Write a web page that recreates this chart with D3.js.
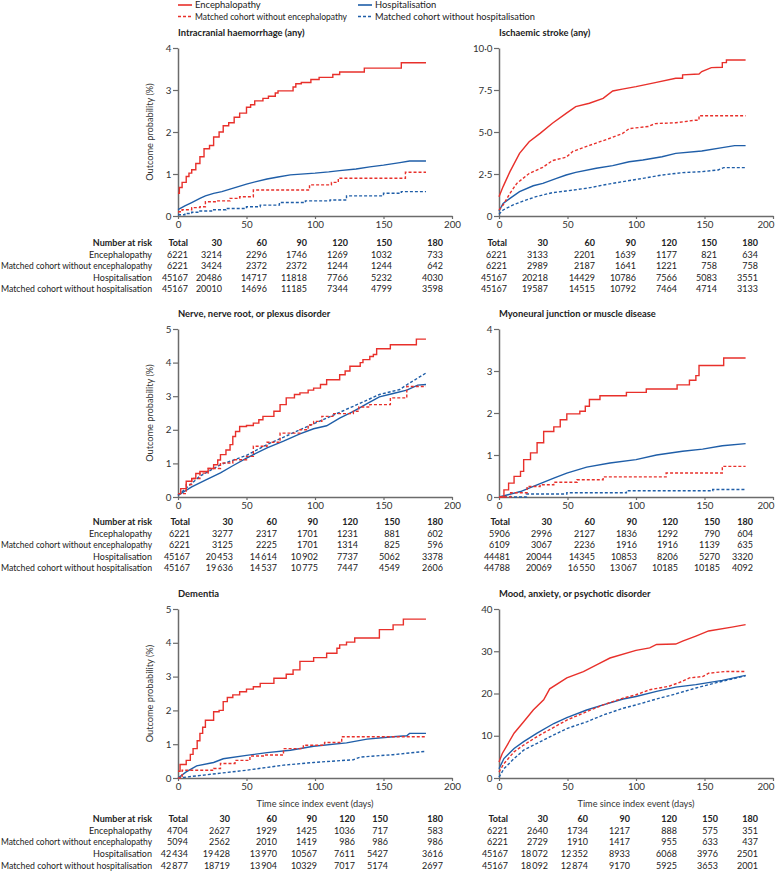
<!DOCTYPE html>
<html><head><meta charset="utf-8">
<script src="https://cdn.jsdelivr.net/npm/d3@7"></script>
<style>
body{margin:0;background:#fff;}
svg{display:block;font-family:Lato,"Noto Sans",sans-serif;}
</style></head><body>
<svg id="chart" width="775" height="871"></svg>
<script>
// ---------- DATA ----------
const seriesNames = ["Encephalopathy","Matched cohort without encephalopathy","Hospitalisation","Matched cohort without hospitalisation"];
const riskDays = ["Total","30","60","90","120","150","180"];
const xTicks = [0,50,100,150,200];

// Intracranial haemorrhage (any)
const ichEnc = [[0,0.54],[1,0.68],[3,0.8],[6,0.94],[8,1.02],[10,1.1],[13,1.25],[16,1.41],[19,1.6],[23,1.68],[26,1.88],[30,2.0],[33,2.15],[37,2.22],[41,2.35],[45,2.45],[50,2.59],[53,2.65],[56,2.74],[62,2.8],[66,2.85],[71,2.93],[73,2.98],[84,3.07],[86,3.15],[90,3.18],[97,3.25],[103,3.3],[113,3.37],[118,3.43],[136,3.52],[163,3.65],[181,3.65]];
const ichEncCtl = [[0,0.1],[3,0.15],[10,0.2],[16,0.22],[20,0.34],[28,0.36],[38,0.42],[45,0.46],[55,0.62],[96,0.74],[112,0.8],[117,0.9],[166,1.04],[181,1.04]];
const ichHosp = [[0,0.15],[5,0.24],[10,0.32],[16,0.42],[20,0.48],[26,0.54],[32,0.58],[38,0.64],[44,0.7],[50,0.76],[57,0.82],[65,0.88],[73,0.93],[82,0.98],[100,1.02],[110,1.05],[118,1.08],[130,1.12],[140,1.17],[150,1.21],[162,1.27],[169,1.31],[181,1.31]];
const ichHospCtl = [[0,0.03],[5,0.06],[10,0.09],[16,0.12],[25,0.15],[35,0.18],[50,0.22],[60,0.26],[74,0.32],[93,0.36],[111,0.38],[123,0.48],[150,0.54],[163,0.58],[181,0.58]];
const ichRisk = [["6221","3214","2296","1746","1269","1032","733"],["6221","3424","2372","2372","1244","1244","642"],["45167","20486","14717","11818","7766","5232","4030"],["45167","20010","14696","11185","7344","4799","3598"]];

// Ischaemic stroke (any)
const iscEnc = [[0,1.15],[3,1.75],[8,2.64],[15,3.73],[22,4.42],[30,4.92],[39,5.52],[49,6.11],[56,6.51],[66,6.71],[76,7.0],[83,7.44],[90,7.55],[100,7.7],[114,7.94],[129,8.2],[134,8.2],[134,8.4],[146,8.45],[148,8.6],[155,8.83],[163,8.85],[163,9.13],[166,9.13],[166,9.29],[180,9.29]];
const iscEncCtl = [[0,0.36],[3,0.65],[8,1.35],[13,1.94],[22,2.53],[32,2.9],[39,3.3],[49,3.5],[54,3.85],[66,4.2],[80,4.6],[90,4.9],[95,5.2],[109,5.33],[114,5.5],[129,5.55],[143,5.7],[146,5.7],[146,5.97],[180,5.97]];
const iscHosp = [[0,0.3],[3,0.75],[8,1.05],[15,1.45],[25,1.8],[32,1.94],[42,2.24],[49,2.44],[56,2.6],[71,2.84],[83,3.0],[95,3.23],[105,3.33],[119,3.53],[129,3.73],[148,3.87],[163,4.07],[172,4.19],[180,4.19]];
const iscHospCtl = [[0,0.1],[3,0.36],[10,0.65],[17.6,0.89],[27,1.15],[39,1.39],[49,1.49],[64,1.65],[76,1.84],[90,2.04],[105,2.24],[119,2.44],[134,2.58],[148,2.64],[160,2.74],[164,2.88],[180,2.88]];
const iscRisk = [["6221","3133","2201","1639","1177","821","634"],["6221","2989","2187","1641","1221","758","758"],["45167","20218","14429","10786","7566","5083","3551"],["45167","19587","14515","10792","7464","4714","3133"]];

// Nerve, nerve root, or plexus disorder
const nrvEnc = [[0,0.1],[2,0.25],[6,0.47],[10,0.55],[13,0.7],[16,0.76],[22,0.85],[26,0.96],[29,1.1],[31,1.26],[35,1.4],[38,1.56],[40,1.8],[42,1.95],[45,2.1],[50,2.13],[55,2.2],[59,2.3],[62,2.4],[70,2.55],[74.5,2.75],[79,2.95],[85,3.05],[89,3.1],[95,3.18],[99,3.24],[104,3.35],[108.5,3.49],[118,3.64],[122,3.75],[125.5,3.89],[133,4.0],[135,4.09],[140,4.18],[142.6,4.24],[145,4.41],[155,4.53],[174,4.7],[181,4.7]];
const nrvEncCtl = [[0,0.1],[6,0.37],[10,0.55],[16,0.71],[22,0.85],[31,1.01],[40,1.11],[50,1.21],[55,1.51],[65,1.63],[74.5,1.9],[89,2.0],[95,2.15],[99,2.25],[105,2.4],[113,2.48],[128,2.55],[132,2.68],[140,2.75],[155,2.95],[167,3.29],[181,3.29]];
const nrvHosp = [[0,0.05],[10,0.3],[20,0.5],[31,0.72],[40,0.93],[50,1.16],[65,1.46],[77,1.66],[89,1.88],[99,2.03],[108.5,2.12],[118,2.35],[128,2.55],[138,2.78],[147,2.98],[157,3.08],[167,3.18],[175,3.33],[181,3.35]];
const nrvHospCtl = [[0,0.05],[16,0.62],[31,0.96],[50,1.24],[65,1.56],[89,2.0],[108.5,2.35],[128,2.7],[147,3.05],[162,3.2],[167,3.34],[181,3.69]];
const nrvRisk = [["6221","3277","2317","1701","1231","881","602"],["6221","3125","2225","1701","1314","825","596"],["45167","20\u2009453","14\u2009614","10\u2009902","7737","5062","3378"],["45167","19\u2009636","14\u2009537","10\u2009775","7447","4549","2606"]];

// Myoneural junction or muscle disease
const myoEnc = [[0,0],[3.6,0.17],[7,0.33],[11,0.49],[15.7,0.61],[18,0.89],[23,1.05],[27.8,1.29],[32.6,1.56],[40,1.67],[44.7,1.84],[49.5,1.98],[59,2.04],[63,2.16],[66,2.32],[73.7,2.41],[93,2.49],[107.5,2.57],[130,2.67],[139,2.78],[143.7,2.89],[146,3.13],[164,3.31],[180,3.31]];
const myoEncCtl = [[0,0],[8.5,0.1],[20.5,0.25],[30,0.29],[40,0.35],[57,0.41],[76,0.48],[122,0.57],[163,0.73],[180,0.73]];
const myoHosp = [[0,0],[15.7,0.13],[27.8,0.29],[40,0.45],[49.5,0.57],[64,0.71],[81,0.81],[100,0.89],[115,1.0],[134,1.09],[148.6,1.14],[163,1.22],[180,1.27]];
const myoHospCtl = [[0,0],[20,0.07],[49.5,0.1],[93,0.15],[156,0.18],[180,0.18]];
const myoRisk = [["5906","2996","2127","1836","1292","790","604"],["6109","3067","2236","1916","1916","1139","635"],["44481","20044","14345","10853","8206","5270","3320"],["44788","20069","16\u2009550","13\u2009067","10185","10185","4092"]];

// Dementia
const demEnc = [[0,0.2],[1.5,0.4],[6,0.52],[9,0.7],[11,0.87],[14,1.1],[16,1.32],[18,1.5],[20,1.71],[26,1.96],[30,2.0],[33,2.26],[36,2.38],[40,2.46],[45,2.55],[50,2.63],[55,2.7],[60,2.8],[70,2.95],[79,3.07],[84,3.2],[89,3.45],[99,3.56],[108.5,3.69],[116,3.84],[118,3.94],[123,4.02],[129,4.14],[147,4.39],[157,4.53],[164.5,4.7],[181,4.7]];
const demEncCtl = [[0,0],[3,0.23],[26,0.28],[31,0.43],[41.6,0.52],[52.5,0.65],[63,0.68],[77,0.87],[91.5,0.97],[107,1.05],[119.5,1.22],[181,1.22]];
const demHosp = [[0,0],[6,0.18],[13.6,0.36],[26,0.46],[33,0.57],[50,0.67],[65,0.75],[82,0.82],[99,0.94],[123,1.04],[138,1.15],[157,1.22],[167,1.25],[169,1.32],[181,1.32]];
const demHospCtl = [[0,0],[50,0.23],[77,0.38],[99,0.46],[128,0.54],[133,0.62],[157,0.69],[181,0.79]];
const demRisk = [["4704","2627","1929","1425","1036","717","583"],["5094","2562","2010","1419","986","986","986"],["42\u2009434","19\u2009428","13\u2009970","10567","7611","5427","3616"],["42\u2009877","18719","13\u2009904","10329","7017","5174","2697"]];

// Mood, anxiety, or psychotic disorder
const mooEnc = [[0,3.8],[2.4,5.8],[6,7.8],[11,10.6],[18,13.3],[25,16.1],[32.6,18.5],[37,21.1],[49.5,23.7],[61.6,25.2],[73.7,27.2],[81,28.4],[100,30.2],[110,30.8],[115,31.6],[129,31.7],[134,32.4],[143.7,33.6],[153,34.8],[170,35.7],[180,36.3]];
const mooEncCtl = [[0,1.4],[3.6,3.4],[11,6.2],[18,7.8],[27.8,9.8],[40,12.0],[49.5,13.7],[64,15.7],[76,17.3],[90.6,18.9],[100,19.7],[110,20.9],[124,21.7],[134,22.9],[139,23.7],[148.6,24.0],[153,24.8],[165,25.2],[180,25.2]];
const mooHosp = [[0,2.2],[3.6,4.6],[11,7.0],[18,8.6],[27.8,10.6],[40,12.9],[49.5,14.3],[64,16.1],[76,17.3],[90.6,18.7],[100,19.3],[115,20.5],[129,21.5],[143.7,22.1],[163,23.1],[180,24.3]];
const mooHospCtl = [[0,0.2],[3.6,2.2],[11,4.6],[18,6.6],[27.8,8.2],[40,10.2],[49.5,11.7],[64,13.3],[76,14.9],[90.6,16.5],[100,17.3],[115,18.7],[129,19.9],[143.7,21.3],[158,22.5],[180,24.2]];
const mooRisk = [["6221","2640","1734","1217","888","575","351"],["6221","2729","1910","1417","955","633","437"],["45167","18\u2009072","12\u2009352","8933","6068","3976","2501"],["45167","18\u2009092","12\u2009874","9170","5925","3653","2001"]];

// ---------- LAYOUT ----------
const RED = "#e8302b", BLUE = "#1f5ea8";
const styles = [{c:RED,dash:null},{c:RED,dash:"3,2"},{c:BLUE,dash:null},{c:BLUE,dash:"3,2"}];
const colX = [[178,452],[499,773]];
const rowY = [[48,216],[329,497],[609,778]];
const tableY = [242.7,521.7,819];
const colPos = [
  [[188,222,267,307,348,392,443],[507,548,595,636,677,717,758]],
  [[190,233,277,318,358,400,443],[510,552,595,637,678,720,753]],
  [[188,230,277,317,355,388,443],[508,548,588,630,677,718,758]]
];

const dotFmt = d => d === 0 ? "0" : d.toFixed(1).replace(".", "\u00B7");
const panels = [
  {title:"Intracranial haemorrhage (any)", c:0, r:0, yMax:4, ticks:[0,1,2,3,4], fmt:d=>d, s:[ichEnc,ichEncCtl,ichHosp,ichHospCtl], step:[1,1,0,1], risk:ichRisk},
  {title:"Ischaemic stroke (any)", c:1, r:0, yMax:10, ticks:[0,2.5,5,7.5,10], fmt:dotFmt, s:[iscEnc,iscEncCtl,iscHosp,iscHospCtl], step:[0,0,0,0], risk:iscRisk},
  {title:"Nerve, nerve root, or plexus disorder", c:0, r:1, yMax:5, ticks:[0,1,2,3,4,5], fmt:d=>d, s:[nrvEnc,nrvEncCtl,nrvHosp,nrvHospCtl], step:[1,1,0,0], risk:nrvRisk},
  {title:"Myoneural junction or muscle disease", c:1, r:1, yMax:4, ticks:[0,1,2,3,4], fmt:d=>d, s:[myoEnc,myoEncCtl,myoHosp,myoHospCtl], step:[1,1,0,1], risk:myoRisk},
  {title:"Dementia", c:0, r:2, yMax:5, ticks:[0,1,2,3,4,5], fmt:d=>d, s:[demEnc,demEncCtl,demHosp,demHospCtl], step:[1,1,0,0], risk:demRisk},
  {title:"Mood, anxiety, or psychotic disorder", c:1, r:2, yMax:40, ticks:[0,10,20,30,40], fmt:d=>d, s:[mooEnc,mooEncCtl,mooHosp,mooHospCtl], step:[0,0,0,0], risk:mooRisk}
];

const svg = d3.select("#chart");
const FS = 9;

// fit a text into a maximum width by compressing it slightly if needed
function fit(sel, maxW) {
  sel.each(function(){
    const w = this.getComputedTextLength();
    if (w > maxW) d3.select(this).attr("textLength", maxW).attr("lengthAdjust","spacingAndGlyphs");
  });
}

// legend
const legend = svg.append("g");
const legPos = [[178,5],[178,16.5],[358,5],[358,16.5]];
seriesNames.forEach((n,i)=>{
  const [lx,ly] = legPos[i];
  legend.append("line").attr("x1",lx).attr("x2",lx+14).attr("y1",ly).attr("y2",ly)
    .attr("stroke",styles[i].c).attr("stroke-width",1.6).attr("stroke-dasharray",styles[i].dash);
  const tx = legend.append("text").attr("x",lx+17).attr("y",ly).attr("dy","0.35em")
    .attr("font-size",9.4).attr("fill","#222").text(n);
  fit(tx, i===1 ? 152 : 160);
});

panels.forEach(p=>{
  const [x0,x1] = colX[p.c], [yT,yB] = rowY[p.r];
  const x = d3.scaleLinear().domain([0,200]).range([x0,x1]);
  const y = d3.scaleLinear().domain([0,p.yMax]).range([yB,yT]);
  const g = svg.append("g");

  g.append("text").attr("x",x0).attr("y",yT-15.5).attr("dy","0.35em")
    .attr("font-size",9.4).attr("font-weight",700).attr("fill","#222").text(p.title);

  const ax = g.append("g").attr("transform",`translate(0,${yB})`)
    .call(d3.axisBottom(x).tickValues(xTicks).tickSize(3).tickSizeOuter(0).tickPadding(2));
  const ay = g.append("g").attr("transform",`translate(${x0},0)`)
    .call(d3.axisLeft(y).tickValues(p.ticks).tickFormat(p.fmt).tickSize(5).tickSizeOuter(0).tickPadding(1.5));
  [ax,ay].forEach(a=>{
    a.select(".domain").attr("stroke","#6b6b6b").attr("stroke-width",1.5);
    a.selectAll(".tick line").attr("stroke","#6b6b6b").attr("stroke-width",1.2);
    a.selectAll("text").attr("font-size",9.8).attr("fill","#333").attr("font-family","Lato,'Noto Sans',sans-serif");
  });
  if (p.c === 1) {
    ax.selectAll(".tick text").filter(d=>d===200).attr("text-anchor","end").attr("x",1);
  }

  if (p.c === 0) {
    g.append("text").attr("transform",`translate(150,${(yT+yB)/2}) rotate(-90)`)
      .attr("text-anchor","middle").attr("dy","0.35em").attr("font-size",9.2).attr("fill","#333")
      .text("Outcome probability (%)");
  }
  if (p.r === 2) {
    g.append("text").attr("x",(x0+x1)/2).attr("y",803.3).attr("dy","0.35em").attr("text-anchor","middle")
      .attr("font-size",9.2).attr("fill","#333").text("Time since index event (days)");
  }

  // curves: hospitalisation first, encephalopathy on top
  [3,2,1,0].forEach(i=>{
    const line = d3.line().x(d=>x(d[0])).y(d=>y(d[1]))
      .curve(p.step[i] ? d3.curveStepAfter : d3.curveLinear);
    g.append("path").datum(p.s[i]).attr("d",line).attr("fill","none")
      .attr("stroke",styles[i].c).attr("stroke-width",1.4)
      .attr("stroke-dasharray",styles[i].dash).attr("stroke-linejoin","miter");
  });

  // risk table
  const ty = tableY[p.r], cols = colPos[p.r][p.c], rh = 11.65;
  const t = g.append("g").attr("font-size",FS).attr("fill","#222");
  if (p.c === 0) {
    t.append("text").attr("x",152).attr("y",ty).attr("dy","0.35em").attr("text-anchor","end")
      .attr("font-weight",700).text("Number at risk");
    seriesNames.forEach((n,i)=>{
      const tx = t.append("text").attr("x",152).attr("y",ty+rh*(i+1)).attr("dy","0.35em").attr("text-anchor","end").text(n);
      fit(tx, 151);
    });
  }
  riskDays.forEach((h,j)=>{
    t.append("text").attr("x",cols[j]).attr("y",ty).attr("dy","0.35em").attr("text-anchor","end")
      .attr("font-weight",700).text(h);
  });
  p.risk.forEach((row,i)=>{
    row.forEach((v,j)=>{
      t.append("text").attr("x",cols[j]).attr("y",ty+rh*(i+1)).attr("dy","0.35em").attr("text-anchor","end").text(v);
    });
  });
});
</script>
</body></html>
